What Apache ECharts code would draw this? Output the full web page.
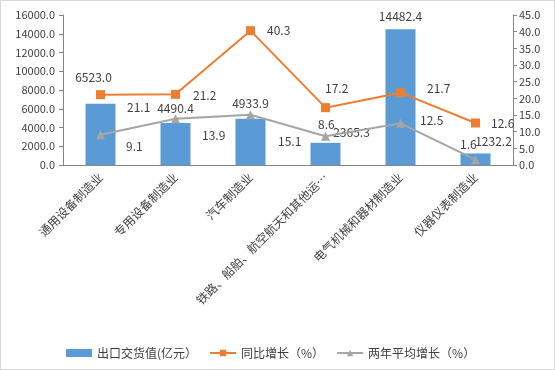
<!DOCTYPE html>
<html><head><meta charset="utf-8">
<script src="https://cdn.jsdelivr.net/npm/echarts@6/dist/echarts.min.js"></script>
<style>html,body{margin:0;padding:0;background:#fff}
#c{position:absolute;left:0;top:0;width:553px;height:368px;border:1px solid #d9d9d9}</style>
</head><body><div id="c"></div>
<script>
const categories = ['通用设备制造业','专用设备制造业','汽车制造业','铁路、船舶、航空航天和其他运…','电气机械和器材制造业','仪器仪表制造业'];
const exportValue = [6523.0, 4490.4, 4933.9, 2365.3, 14482.4, 1232.2];
const yoyGrowth = [21.1, 21.2, 40.3, 17.2, 21.7, 12.6];
const twoYearGrowth = [9.1, 13.9, 15.1, 8.6, 12.5, 1.6];
const leftTicks = {min:0, max:16000, interval:2000};
const rightTicks = {min:0, max:45, interval:5};

// label offsets (style only)
const barOff = [[-7,-20],[0,-8],[0,-9],[26,-4],[0,-7],[18,-6]];
const yoyOff = [[22,13],[13,1],[12,0],[-5,-19],[22,-4],[11,0]];
const twoOff = [[21,12],[22,17],[23,27],[-12,-12],[15,-3],[-20,-15]];

const font = "'Noto Sans CJK SC', sans-serif";
const lblStyle = {color:'#404040', fontSize:12, fontFamily:font};
const chart = echarts.init(document.getElementById('c'));
const axisLine = {lineStyle:{color:'#868686'}};
chart.setOption({
  animation:false,
  textStyle:{fontFamily:font},
  grid:{left:62, right:41, top:14, bottom:204},
  legend:{
    left:60, top:341, itemWidth:26, itemHeight:8, itemGap:12,
    textStyle:{color:'#404040', fontSize:12, fontFamily:font},
    data:[{name:'出口交货值(亿元）', icon:'rect'}, '同比增长（%）', '两年平均增长（%）']
  },
  xAxis:{type:'category', data:categories, axisLine, axisTick:{lineStyle:{color:'#868686'}, length:5},
    axisLabel:{rotate:45, interval:0, color:'#404040', fontSize:12, fontFamily:font, margin:10}},
  yAxis:[
    {type:'value', min:leftTicks.min, max:leftTicks.max, interval:leftTicks.interval, splitLine:{show:false},
     axisLine:{show:true, lineStyle:{color:'#868686'}}, axisTick:{show:true, length:4, lineStyle:{color:'#868686'}},
     axisLabel:{formatter:v=>v.toFixed(1), color:'#404040', fontSize:11, fontFamily:font, margin:8}},
    {type:'value', min:rightTicks.min, max:rightTicks.max, interval:rightTicks.interval, splitLine:{show:false}, alignTicks:false,
     axisLine:{show:true, lineStyle:{color:'#868686'}}, axisTick:{show:true, length:4, lineStyle:{color:'#868686'}},
     axisLabel:{formatter:v=>v.toFixed(1), color:'#404040', fontSize:11, fontFamily:font, margin:6}}
  ],
  series:[
    {name:'出口交货值(亿元）', type:'bar', barWidth:'40%', itemStyle:{color:'#5B9BD5'},
     data:exportValue.map((v,i)=>({value:v, label:{show:true, position:'top', distance:0, offset:barOff[i], formatter:p=>p.value.toFixed(1), ...lblStyle}}))},
    {name:'同比增长（%）', type:'line', yAxisIndex:1, symbol:'rect', symbolSize:9,
     lineStyle:{color:'#ED7D31', width:2}, itemStyle:{color:'#ED7D31'},
     data:yoyGrowth.map((v,i)=>({value:v, label:{show:true, position:'right', distance:0, offset:yoyOff[i], formatter:p=>p.value.toFixed(1), ...lblStyle}}))},
    {name:'两年平均增长（%）', type:'line', yAxisIndex:1, symbol:'triangle', symbolSize:9,
     lineStyle:{color:'#A5A5A5', width:2}, itemStyle:{color:'#A5A5A5'},
     data:twoYearGrowth.map((v,i)=>({value:v, label:{show:true, position:'right', distance:0, offset:twoOff[i], formatter:p=>p.value.toFixed(1), ...lblStyle}}))}
  ]
});
</script></body></html>
